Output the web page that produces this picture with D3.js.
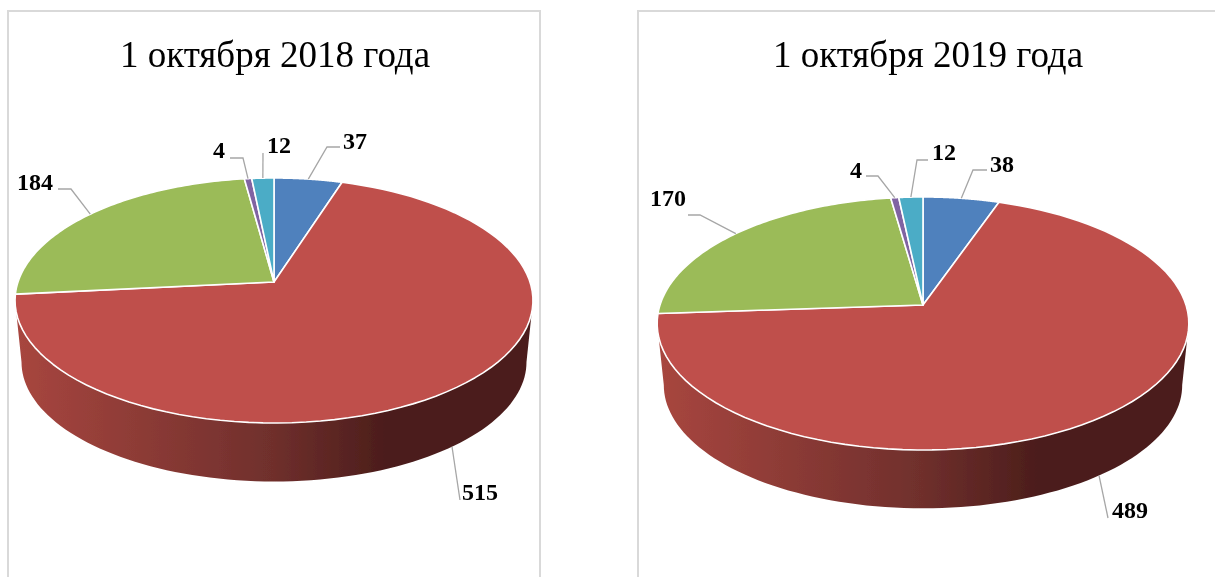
<!DOCTYPE html>
<html>
<head>
<meta charset="utf-8">
<script src="https://cdn.jsdelivr.net/npm/d3@7"></script>
<style>
  html, body { margin: 0; padding: 0; background: #fff; }
  svg { display: block; }
</style>
</head>
<body>
<div id="container"></div>
<script>
const colors = ["#4f81bd", "#bf4f4c", "#9bbb59", "#8064a2", "#4bacc6"];

const titles = ["1 октября 2018 года", "1 октября 2019 года"];
const values2018 = [37, 515, 184, 4, 12];
const values2019 = [38, 489, 170, 4, 12];

const width = 1215;
const height = 577;

// apex = where the slices meet, perspective makes it sit above the ellipse middle
const layouts = [
  {
    title: titles[0], values: values2018, titleX: 275,
    frame: [8, 11, 532],
    apex: [274, 282], a: 256, b: 119.7, k: 0.151, drop: 62, shrink: 0.975,
    elbows: [[[327, 147], [340, 147]], [[460, 500]], [[71, 189], [58, 189]], [[243, 158], [230, 158]], [[263, 153]]],
    labels: [[355, 141], [480, 492], [35, 182], [219, 150], [279, 145]],
  },
  {
    title: titles[1], values: values2019, titleX: 928,
    frame: [638, 11, 590],
    apex: [923, 305], a: 263, b: 123.8, k: 0.146, drop: 62, shrink: 0.975,
    elbows: [[[973, 170], [987, 170]], [[1108, 518]], [[700, 215], [688, 215]], [[878, 176], [866, 176]], [[917, 160], [928, 160]]],
    labels: [[1002, 164], [1130, 510], [668, 198], [856, 170], [944, 152]],
  },
];

const svg = d3.select("#container").append("svg")
  .attr("width", width)
  .attr("height", height)
  .attr("viewBox", [0, 0, width, height]);

const defs = svg.append("defs");
defs.append("filter").attr("id", "soft")
  .append("feGaussianBlur").attr("stdDeviation", 0.55);
defs.append("filter").attr("id", "softText")
  .append("feGaussianBlur").attr("stdDeviation", 0.2);

const line = d3.line();
const pie = d3.pie().sort(null).value((d) => d);

function drawChart(cfg, idx) {
  const g = svg.append("g");
  const [cx, cy] = cfg.apex;

  // disc plane to screen, k is the perspective strength
  const top = (t) => {
    const w = 1 + cfg.k * Math.cos(t);
    return [cx + cfg.a * Math.sin(t) / w, cy - cfg.b * Math.cos(t) / w];
  };
  const bottom = (t) => {
    const w = 1 + cfg.k * Math.cos(t);
    return [
      cx + cfg.shrink * cfg.a * Math.sin(t) / w,
      cy + cfg.drop - cfg.shrink * cfg.b * Math.cos(t) / w,
    ];
  };
  const arcPoints = (fn, a0, a1) => d3.range(0, 1.0001, 1 / 90).map((f) => fn(a0 + (a1 - a0) * f));

  const slices = pie(cfg.values);

  g.append("rect")
    .attr("x", cfg.frame[0])
    .attr("y", cfg.frame[1])
    .attr("width", cfg.frame[2])
    .attr("height", height + 10)
    .attr("fill", "#fff")
    .attr("stroke", "#d9d9d9")
    .attr("stroke-width", 2);

  g.append("text")
    .attr("x", cfg.titleX)
    .attr("y", 67)
    .attr("text-anchor", "middle")
    .attr("font-family", "'Liberation Serif', serif")
    .attr("font-size", 37)
    .attr("fill", "#000")
    .attr("filter", "url(#softText)")
    .text(cfg.title);

  // side wall, only the red slice faces the viewer
  const gradId = `wall${idx}`;
  const x0 = top(-Math.PI / 2 - 0.15)[0];
  const x1 = top(Math.PI / 2 + 0.15)[0];
  const grad = defs.append("linearGradient")
    .attr("id", gradId)
    .attr("gradientUnits", "userSpaceOnUse")
    .attr("x1", x0).attr("x2", x1).attr("y1", 0).attr("y2", 0);
  grad.append("stop").attr("offset", 0).attr("stop-color", "#a8463f");
  grad.append("stop").attr("offset", 0.5).attr("stop-color", "#6f2f2c");
  grad.append("stop").attr("offset", 0.72).attr("stop-color", "#4b1d1b");
  grad.append("stop").attr("offset", 1).attr("stop-color", "#4b1d1b");

  const tanL = Math.PI + Math.acos(cfg.k);
  const tanR = Math.PI - Math.acos(cfg.k);
  const wall = arcPoints(bottom, tanR, tanL).concat(arcPoints(top, tanL, tanR));
  const pieG = g.append("g").attr("filter", "url(#soft)");
  pieG.append("path")
    .attr("d", line(wall) + "Z")
    .attr("fill", `url(#${gradId})`);

  pieG.selectAll("path.slice")
    .data(slices)
    .join("path")
    .attr("class", "slice")
    .attr("d", (d) => line([[cx, cy], ...arcPoints(top, d.startAngle, d.endAngle)]) + "Z")
    .attr("fill", (d, i) => colors[i])
    .attr("stroke", "#fff")
    .attr("stroke-width", 1.6)
    .attr("stroke-linejoin", "round");

  // leader lines start on the rim at the middle of each slice
  slices.forEach((d, i) => {
    const mid = (d.startAngle + d.endAngle) / 2;
    const front = Math.cos(mid) < 0;
    const start = front ? bottom(mid) : top(mid);
    g.append("path")
      .attr("d", line([start, ...cfg.elbows[i]]))
      .attr("fill", "none")
      .attr("stroke", "#a6a6a6")
      .attr("stroke-width", 1.3);
    g.append("text")
      .attr("x", cfg.labels[i][0])
      .attr("y", cfg.labels[i][1])
      .attr("dy", "0.35em")
      .attr("text-anchor", "middle")
      .attr("font-family", "'Liberation Serif', serif")
      .attr("font-weight", "bold")
      .attr("font-size", 24)
      .attr("fill", "#000")
      .attr("filter", "url(#softText)")
      .text(d.data);
  });
}

layouts.forEach(drawChart);
</script>
</body>
</html>
